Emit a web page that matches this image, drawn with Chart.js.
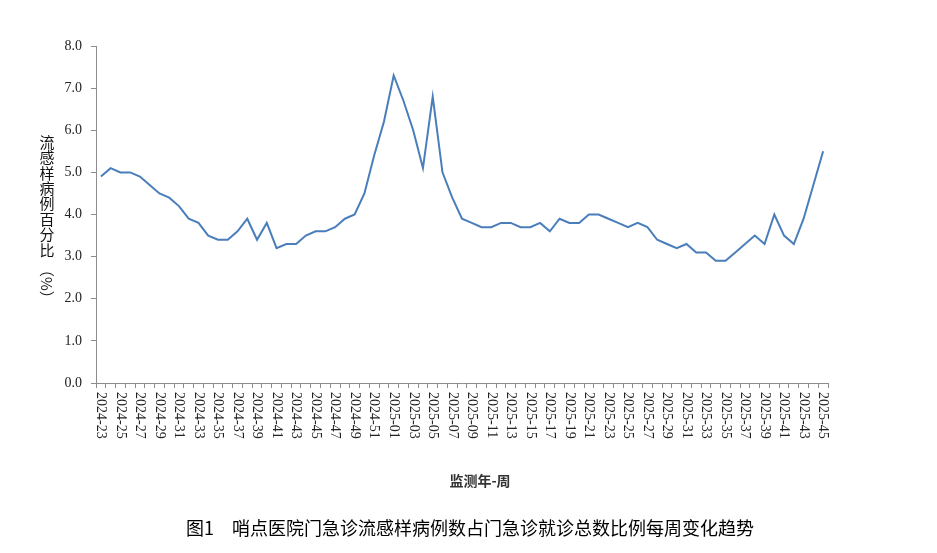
<!DOCTYPE html>
<html lang="zh-CN">
<head>
<meta charset="utf-8">
<title>流感样病例百分比</title>
<script src="https://cdn.jsdelivr.net/npm/chart.js@4.4.1/dist/chart.umd.min.js"></script>
<style>
  html, body { margin: 0; padding: 0; background: #fff; }
  #wrap { position: relative; width: 937px; height: 553px; }
</style>
</head>
<body>
<div id="wrap"><canvas id="fluChart"></canvas></div>
<script>
// ==========================================
// 1. DADOS
// ==========================================

// semanas (ano-semana)
const weeks = [
  '2024-23', '2024-24', '2024-25', '2024-26', '2024-27', '2024-28', '2024-29', '2024-30',
  '2024-31', '2024-32', '2024-33', '2024-34', '2024-35', '2024-36', '2024-37', '2024-38',
  '2024-39', '2024-40', '2024-41', '2024-42', '2024-43', '2024-44', '2024-45', '2024-46',
  '2024-47', '2024-48', '2024-49', '2024-50', '2024-51', '2024-52',
  '2025-01', '2025-02', '2025-03', '2025-04', '2025-05', '2025-06', '2025-07', '2025-08',
  '2025-09', '2025-10', '2025-11', '2025-12', '2025-13', '2025-14', '2025-15', '2025-16',
  '2025-17', '2025-18', '2025-19', '2025-20', '2025-21', '2025-22', '2025-23', '2025-24',
  '2025-25', '2025-26', '2025-27', '2025-28', '2025-29', '2025-30', '2025-31', '2025-32',
  '2025-33', '2025-34', '2025-35', '2025-36', '2025-37', '2025-38', '2025-39', '2025-40',
  '2025-41', '2025-42', '2025-43', '2025-44', '2025-45'
];

// % de casos ILI
const iliRates = [
  4.9, 5.1, 5.0, 5.0, 4.9, 4.7, 4.5, 4.4,
  4.2, 3.9, 3.8, 3.5, 3.4, 3.4, 3.6, 3.9,
  3.4, 3.8, 3.2, 3.3, 3.3, 3.5, 3.6, 3.6,
  3.7, 3.9, 4.0, 4.5, 5.4, 6.2,
  7.3, 6.7, 6.0, 5.1, 6.8, 5.0, 4.4, 3.9,
  3.8, 3.7, 3.7, 3.8, 3.8, 3.7, 3.7, 3.8,
  3.6, 3.9, 3.8, 3.8, 4.0, 4.0, 3.9, 3.8,
  3.7, 3.8, 3.7, 3.4, 3.3, 3.2, 3.3, 3.1,
  3.1, 2.9, 2.9, 3.1, 3.3, 3.5, 3.3, 4.0,
  3.5, 3.3, 3.9, 4.7, 5.5
];

// eixo Y
const yMin = 0;
const yMax = 8;
const yStep = 1;

// textos
const yTitleChars = ['流', '感', '样', '病', '例', '百', '分', '比'];
const yTitleUnit = '（%）';
const xTitle = '监测年-周';
const caption = '图1　哨点医院门急诊流感样病例数占门急诊就诊总数比例每周变化趋势';

const axisColor = '#8c8c8c';
const serifFont = '"Liberation Serif", "DejaVu Serif", serif';
const cjkFont = '"Noto Sans CJK SC", sans-serif';

// ==========================================
// 2. TEXTOS EXTRAS (rótulos girados, títulos)
// ==========================================

const extraText = {
  id: 'extraText',
  afterDraw(chart) {
    const ctx = chart.ctx;
    const xScale = chart.scales.x;
    ctx.save();

    // rótulos do eixo X, um sim um não, girados no sentido horário
    ctx.font = '14px ' + serifFont;
    ctx.fillStyle = '#222';
    ctx.textAlign = 'left';
    ctx.textBaseline = 'middle';
    weeks.forEach((w, i) => {
      if (i % 2 !== 0) return;
      const x = xScale.getPixelForValue(i);
      ctx.save();
      ctx.translate(x, xScale.top + 9);
      ctx.rotate(Math.PI / 2);
      ctx.fillText(w, 0, 0);
      ctx.restore();
    });

    // título do eixo Y, caracteres empilhados
    ctx.font = '15px ' + cjkFont;
    ctx.textAlign = 'center';
    ctx.fillStyle = '#111';
    yTitleChars.forEach((c, i) => {
      ctx.fillText(c, 47, 142 + i * 15.4);
    });
    ctx.save();
    ctx.translate(47, 262);
    ctx.rotate(Math.PI / 2);
    ctx.textAlign = 'left';
    ctx.font = '15px ' + cjkFont;
    ctx.fillText(yTitleUnit, 0, 0);
    ctx.restore();

    // título do eixo X
    ctx.font = 'bold 14px ' + cjkFont;
    ctx.textAlign = 'center';
    ctx.fillStyle = '#333';
    ctx.fillText(xTitle, 480, 481);

    // legenda da figura
    ctx.font = '18px ' + cjkFont;
    ctx.fillStyle = '#000';
    ctx.textAlign = 'left';
    ctx.fillText(caption, 186, 528);

    ctx.restore();
  }
};

// ==========================================
// 3. GRÁFICO
// ==========================================

document.addEventListener('DOMContentLoaded', () => {
  const canvas = document.getElementById('fluChart');
  new Chart(canvas.getContext('2d'), {
    type: 'line',
    data: {
      labels: weeks,
      datasets: [{
        data: iliRates,
        borderColor: '#4a7ebb',
        borderWidth: 2,
        pointRadius: 0,
        tension: 0,
        fill: false
      }]
    },
    options: {
      responsive: true,
      maintainAspectRatio: false,
      animation: false,
      layout: { padding: { left: 0, right: 109, top: 46, bottom: 0 } },
      plugins: { legend: { display: false }, tooltip: { enabled: false } },
      scales: {
        x: {
          type: 'category',
          offset: true,
          grid: { offset: true, drawOnChartArea: false, drawTicks: true, tickLength: 5, color: axisColor },
          border: { color: axisColor, width: 1 },
          ticks: { display: false },
          afterFit(scale) { scale.height = 553 - 383; }
        },
        y: {
          min: yMin,
          max: yMax,
          ticks: {
            stepSize: yStep,
            callback: v => v.toFixed(1),
            font: { family: serifFont, size: 14 },
            color: '#222',
            padding: 9
          },
          grid: { drawOnChartArea: false, tickLength: 5, color: axisColor },
          border: { color: axisColor, width: 1 },
          afterFit(scale) { scale.width = 96; }
        }
      }
    },
    plugins: [extraText]
  });
});
</script>
</body>
</html>
